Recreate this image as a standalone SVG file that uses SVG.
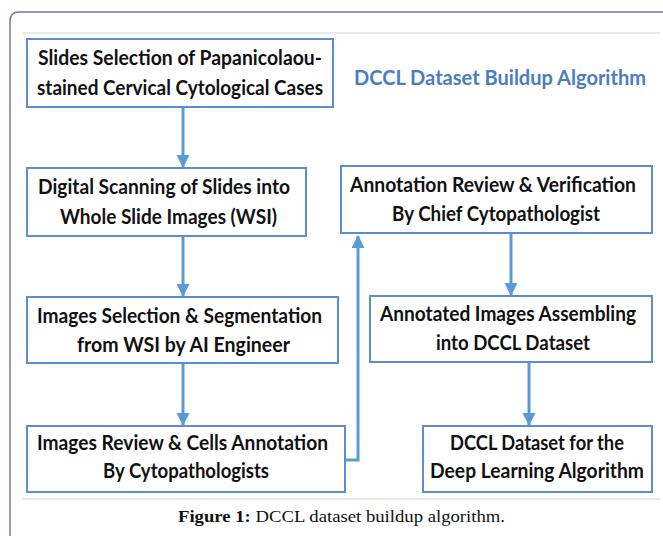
<svg xmlns="http://www.w3.org/2000/svg" width="663" height="536" viewBox="0 0 663 536">
  <style>
    .box { fill: #ffffff; stroke: #5b8dd3; stroke-width: 2; }
    .lbl { font-family: Lato, "Liberation Sans", sans-serif; font-weight: 700; font-size: 21px; fill: #111111; }
    .ttl { font-family: Lato, "Liberation Sans", sans-serif; font-weight: 700; font-size: 21px; fill: #4a7ebf; }
    .cap { font-family: "Liberation Serif", serif; font-size: 17px; fill: #111111; }
    .conn { fill: none; stroke: #5b9bd5; stroke-width: 3; }
    .rule { stroke: #e0e0e0; stroke-width: 1.5; }
  </style>
  <defs>
    <marker id="arrow" markerUnits="userSpaceOnUse" markerWidth="13" markerHeight="14" refX="12" refY="6.5" orient="auto">
      <path d="M0,0 L13,6.5 L0,13 Z" fill="#5b9bd5"/>
    </marker>
  </defs>

  <rect width="663" height="536" fill="#ffffff"/>
  <!-- page frame -->
  <path d="M10,540 L10,21 Q10,12 19,12 L665,12" fill="none" stroke="#7a73ad" stroke-width="1.5"/>
  <line class="rule" x1="23" y1="33" x2="660" y2="33"/>
  <line class="rule" x1="23" y1="499" x2="660" y2="499"/>

  <text class="ttl" x="354" y="85" textLength="292" lengthAdjust="spacingAndGlyphs">DCCL Dataset Buildup Algorithm</text>

  <g id="connectors">
    <line class="conn" x1="183" y1="108" x2="183" y2="167" marker-end="url(#arrow)"/>
    <line class="conn" x1="183" y1="237" x2="183" y2="296" marker-end="url(#arrow)"/>
    <line class="conn" x1="183" y1="364" x2="183" y2="425" marker-end="url(#arrow)"/>
    <polyline class="conn" points="345,460 358,460 358,236" marker-end="url(#arrow)"/>
    <line class="conn" x1="511" y1="234" x2="511" y2="295" marker-end="url(#arrow)"/>
    <line class="conn" x1="529" y1="363" x2="529" y2="425" marker-end="url(#arrow)"/>
  </g>

  <g id="slides-selection">
    <rect class="box" x="27" y="39" width="306" height="68"/>
    <text class="lbl" x="38" y="65" textLength="284" lengthAdjust="spacingAndGlyphs">Slides Selection of Papanicolaou-</text>
    <text class="lbl" x="37" y="95" textLength="286" lengthAdjust="spacingAndGlyphs">stained Cervical Cytological Cases</text>
  </g>

  <g id="digital-scanning">
    <rect class="box" x="27" y="168" width="279" height="68"/>
    <text class="lbl" x="38" y="194" textLength="252" lengthAdjust="spacingAndGlyphs">Digital Scanning of Slides into</text>
    <text class="lbl" x="60" y="224" textLength="217" lengthAdjust="spacingAndGlyphs">Whole Slide Images (WSI)</text>
  </g>

  <g id="images-selection">
    <rect class="box" x="27" y="297" width="311" height="66"/>
    <text class="lbl" x="37" y="323" textLength="285" lengthAdjust="spacingAndGlyphs">Images Selection &amp; Segmentation</text>
    <text class="lbl" x="77" y="352" textLength="213" lengthAdjust="spacingAndGlyphs">from WSI by AI Engineer</text>
  </g>

  <g id="images-review">
    <rect class="box" x="27" y="426" width="318" height="66"/>
    <text class="lbl" x="37" y="450" textLength="291" lengthAdjust="spacingAndGlyphs">Images Review &amp; Cells Annotation</text>
    <text class="lbl" x="103" y="478" textLength="166" lengthAdjust="spacingAndGlyphs">By Cytopathologists</text>
  </g>

  <g id="annotation-review">
    <rect class="box" x="341" y="166" width="311" height="67"/>
    <text class="lbl" x="350" y="192" textLength="286" lengthAdjust="spacingAndGlyphs">Annotation Review &amp; Verification</text>
    <text class="lbl" x="392" y="221" textLength="208" lengthAdjust="spacingAndGlyphs">By Chief Cytopathologist</text>
  </g>

  <g id="annotated-assembling">
    <rect class="box" x="370" y="296" width="282" height="66"/>
    <text class="lbl" x="380" y="321" textLength="256" lengthAdjust="spacingAndGlyphs">Annotated Images Assembling</text>
    <text class="lbl" x="436" y="350" textLength="154" lengthAdjust="spacingAndGlyphs">into DCCL Dataset</text>
  </g>

  <g id="dccl-dataset">
    <rect class="box" x="423" y="426" width="229" height="66"/>
    <text class="lbl" x="450" y="450" textLength="174" lengthAdjust="spacingAndGlyphs">DCCL Dataset for the</text>
    <text class="lbl" x="430" y="478" textLength="214" lengthAdjust="spacingAndGlyphs">Deep Learning Algorithm</text>
  </g>

  <text class="cap" x="178" y="522" textLength="327" lengthAdjust="spacingAndGlyphs"><tspan font-weight="700">Figure 1:</tspan> DCCL dataset buildup algorithm.</text>
</svg>
